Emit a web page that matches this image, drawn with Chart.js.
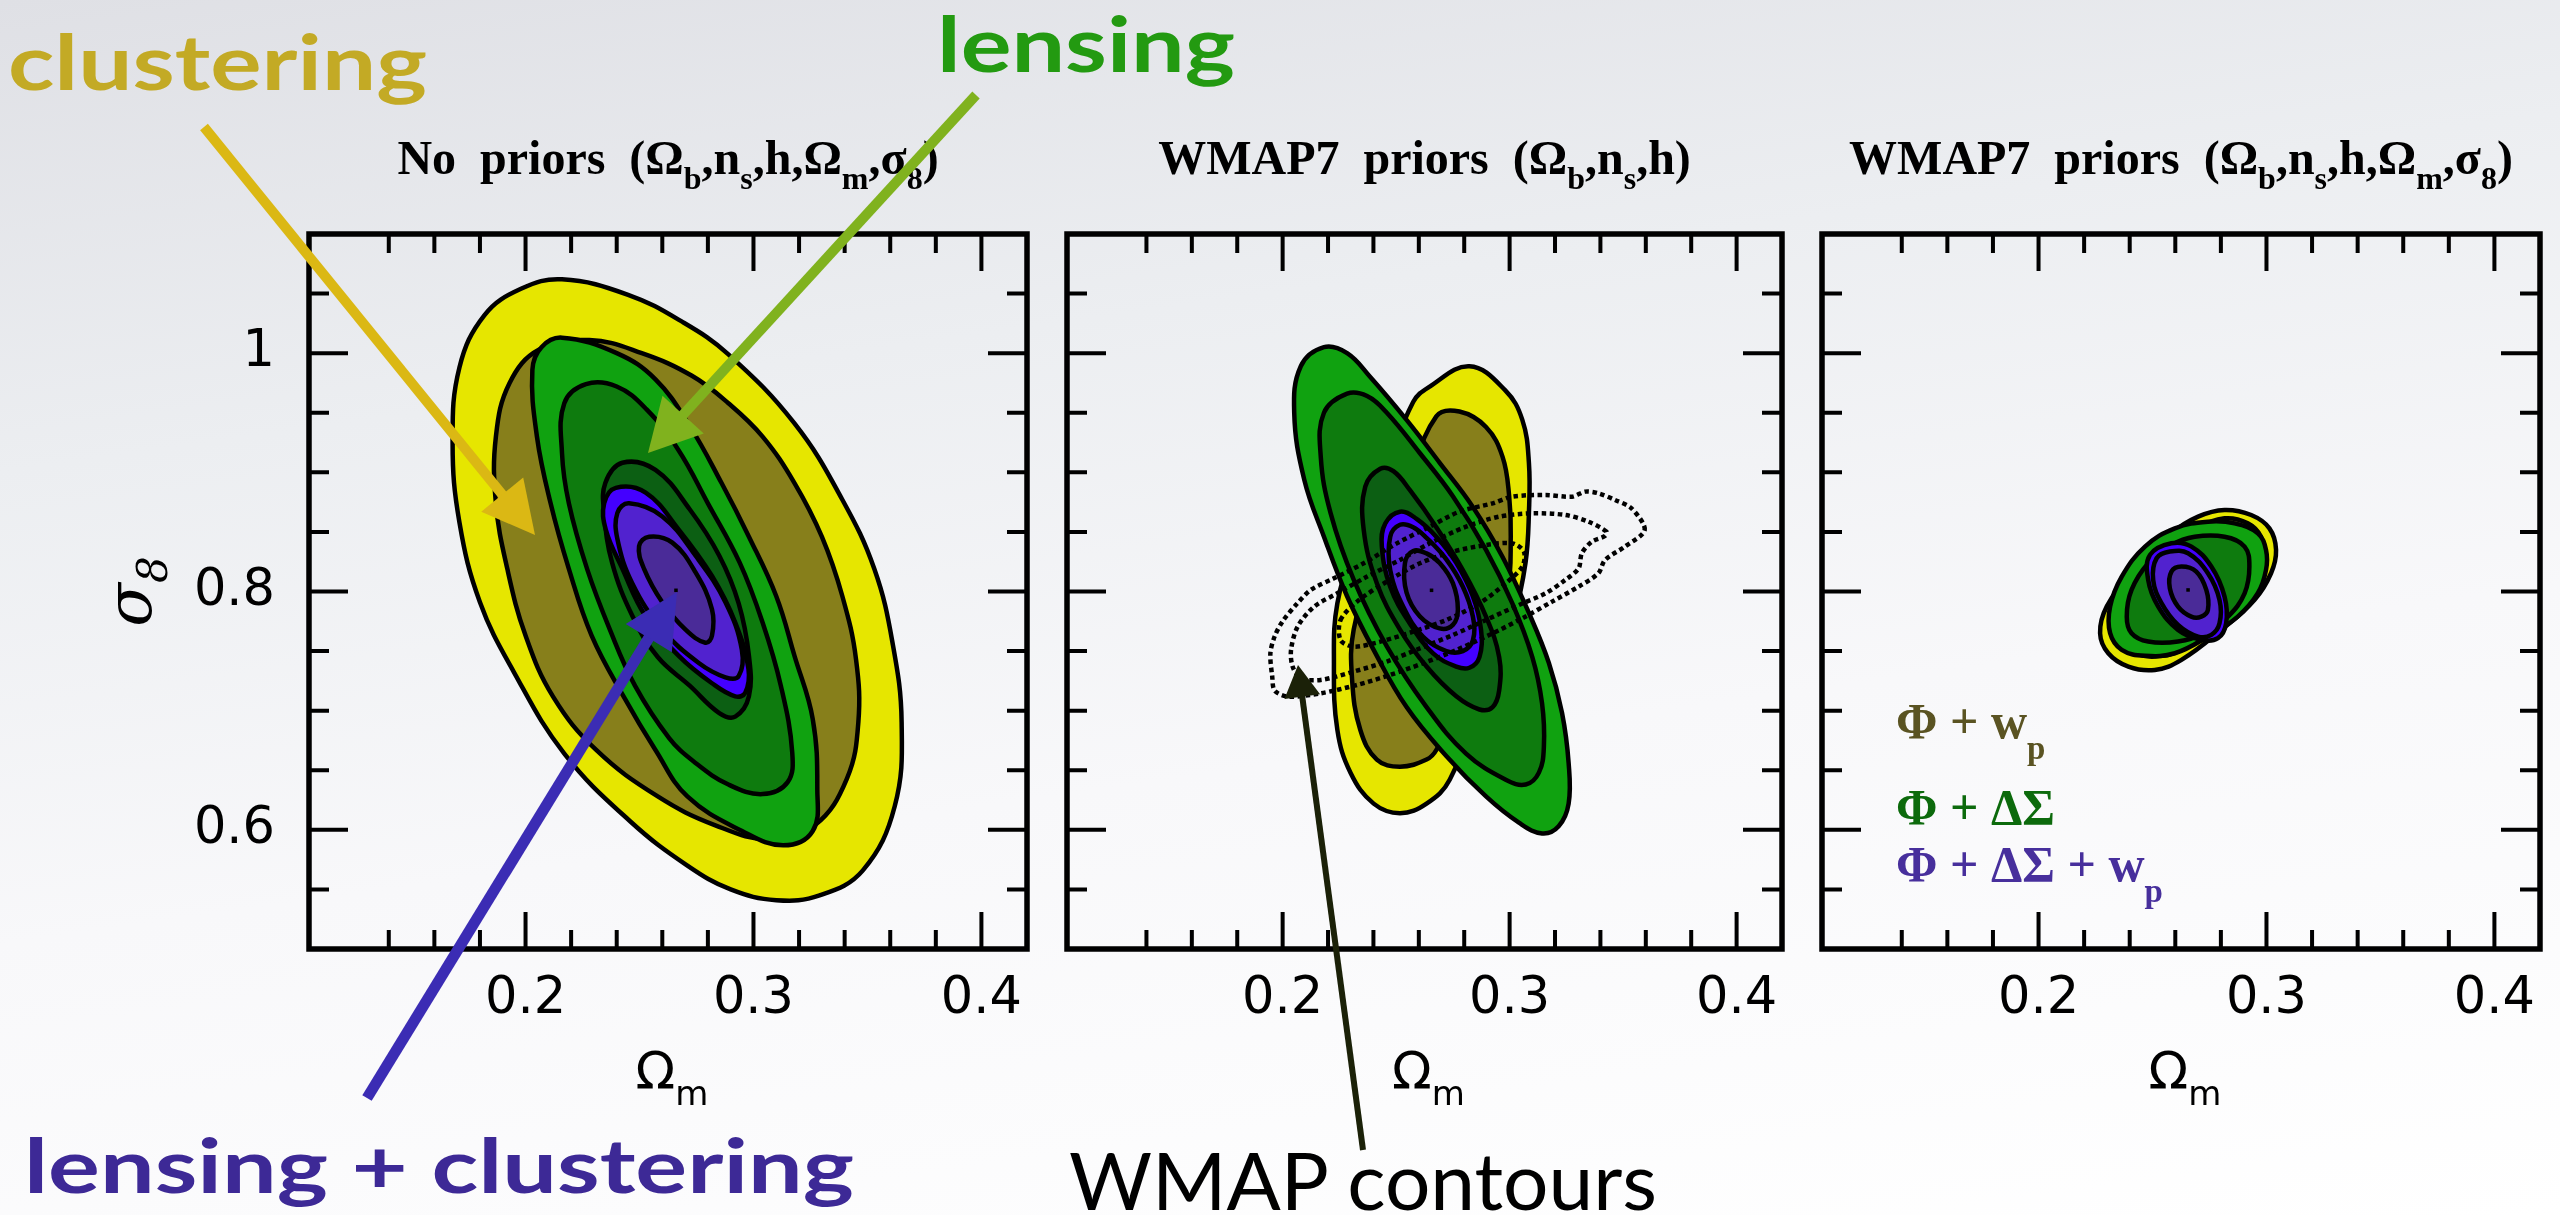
<!DOCTYPE html>
<html>
<head>
<meta charset="utf-8">
<script src="https://cdn.jsdelivr.net/npm/chart.js@4.4.1/dist/chart.umd.min.js"></script>
<style>
html, body { margin: 0; padding: 0; }
body {
    width: 2560px; height: 1215px; overflow: hidden; position: relative;
    background: linear-gradient(172deg, #dfe0e5 0%, #eceef1 30%, #f8f8fa 60%, #ffffff 100%);
}
canvas { position: absolute; top: 0; }
#notes { position: absolute; left: 0; top: 0; }
</style>
</head>
<body>
<canvas id="panel1" width="1047" height="1215" style="left:0px"></canvas>
<canvas id="panel2" width="755" height="1215" style="left:1047px"></canvas>
<canvas id="panel3" width="758" height="1215" style="left:1802px"></canvas>
<svg id="notes" width="2560" height="1215" xmlns="http://www.w3.org/2000/svg">
    <text x="8" y="90" font-family="Lato" font-weight="700" font-size="76" fill="#c3aa25" textLength="419" lengthAdjust="spacingAndGlyphs">clustering</text>
    <text x="937" y="72" font-family="Lato" font-weight="700" font-size="76" fill="#239a11" textLength="298" lengthAdjust="spacingAndGlyphs">lensing</text>
    <text x="24" y="1193" font-family="Lato" font-weight="700" font-size="74" fill="#3d2996" textLength="830" lengthAdjust="spacingAndGlyphs">lensing + clustering</text>
    <text x="1069" y="1210" font-family="Lato" font-weight="400" font-size="80" fill="#000000" textLength="588" lengthAdjust="spacingAndGlyphs">WMAP contours</text>
</svg>
<script>
// axes
var xRange = [0.105, 0.42];
var yRange = [0.5, 1.1];
var xMinorStep = 0.02;
var yMinorStep = 0.05;
var xMajorTicks = [0.2, 0.3, 0.4];
var yMajorTicks = [0.6, 0.8, 1.0];

var panelTitles = ["No  priors  (Ω_b,n_s,h,Ω_m,σ_8)", "WMAP7  priors  (Ω_b,n_s,h)", "WMAP7  priors  (Ω_b,n_s,h,Ω_m,σ_8)"];
var xTitle = "Ω_m";
var yTitle = "σ_8";
var legendLabels = ["Φ+w_p", "Φ+ΔΣ", "Φ+ΔΣ+w_p"];

// panel 1: no priors  [Omega_m, sigma_8] along each contour
var p1ClustOuter = [[0.216,1.062],[0.245,1.049],[0.269,1.026],[0.289,0.999],[0.318,0.941],[0.339,0.877],[0.353,0.819],[0.361,0.757],[0.365,0.690],[0.362,0.620],[0.348,0.566],[0.329,0.545],[0.310,0.541],[0.290,0.550],[0.271,0.570],[0.246,0.607],[0.217,0.664],[0.195,0.732],[0.180,0.791],[0.171,0.858],[0.168,0.925],[0.171,0.988],[0.182,1.032],[0.198,1.054]];
var p1ClustInner = [[0.206,1.003],[0.228,1.011],[0.251,1.000],[0.273,0.981],[0.289,0.958],[0.304,0.930],[0.318,0.891],[0.330,0.846],[0.339,0.796],[0.345,0.743],[0.346,0.690],[0.341,0.643],[0.327,0.604],[0.307,0.592],[0.283,0.604],[0.258,0.628],[0.231,0.667],[0.212,0.712],[0.200,0.763],[0.192,0.819],[0.187,0.874],[0.187,0.930],[0.193,0.975]];
var p1LensOuter = [[0.216,1.013],[0.240,1.000],[0.257,0.978],[0.272,0.939],[0.286,0.891],[0.298,0.846],[0.310,0.796],[0.318,0.746],[0.326,0.693],[0.328,0.634],[0.326,0.599],[0.313,0.587],[0.295,0.599],[0.271,0.628],[0.257,0.667],[0.243,0.712],[0.229,0.763],[0.219,0.819],[0.211,0.874],[0.205,0.930],[0.203,0.986],[0.207,1.005]];
var p1LensMid = [[0.2265,0.974],[0.240,0.972],[0.253,0.953],[0.267,0.919],[0.280,0.874],[0.294,0.824],[0.304,0.774],[0.312,0.721],[0.317,0.665],[0.315,0.640],[0.304,0.630],[0.289,0.638],[0.274,0.657],[0.263,0.677],[0.248,0.721],[0.237,0.768],[0.227,0.819],[0.219,0.874],[0.216,0.916],[0.217,0.958]];
var p1LensInner = [[0.2425,0.908],[0.257,0.902],[0.272,0.869],[0.285,0.830],[0.2935,0.790],[0.298,0.746],[0.298,0.712],[0.292,0.695],[0.285,0.698],[0.272,0.721],[0.258,0.745],[0.247,0.779],[0.238,0.824],[0.2345,0.866],[0.235,0.891]];
var p1CombOuter = [[0.2396,0.887],[0.2527,0.883],[0.2672,0.852],[0.2818,0.813],[0.292,0.774],[0.2978,0.735],[0.2964,0.715],[0.292,0.712],[0.2818,0.723],[0.2672,0.746],[0.2527,0.779],[0.2425,0.819],[0.2352,0.852],[0.2345,0.874]];
var p1CombMid = [[0.2454,0.874],[0.260,0.863],[0.2746,0.830],[0.2877,0.791],[0.2949,0.751],[0.2935,0.729],[0.2877,0.728],[0.276,0.740],[0.260,0.768],[0.2468,0.807],[0.2403,0.844],[0.2403,0.866]];
var p1CombInner = [[0.2542,0.846],[0.2644,0.841],[0.2746,0.816],[0.2818,0.785],[0.2818,0.763],[0.2789,0.757],[0.2702,0.768],[0.260,0.791],[0.252,0.819],[0.2498,0.838]];
var p1Best = [[0.266,0.801]];

// panel 2: WMAP7 priors on Omega_b, n_s, h
var p2ClustOuter = [[0.2823,0.989],[0.298,0.969],[0.3056,0.944],[0.3085,0.908],[0.3085,0.866],[0.307,0.824],[0.302,0.780],[0.290,0.720],[0.2736,0.642],[0.2634,0.622],[0.2517,0.614],[0.2401,0.622],[0.2299,0.648],[0.2241,0.684],[0.2226,0.740],[0.2241,0.790],[0.232,0.840],[0.245,0.900],[0.2575,0.959],[0.2648,0.972]];
var p2ClustInner = [[0.2779,0.951],[0.2896,0.938],[0.2969,0.913],[0.2998,0.880],[0.3005,0.846],[0.299,0.800],[0.290,0.750],[0.2677,0.667],[0.2634,0.659],[0.2517,0.653],[0.2415,0.659],[0.2342,0.684],[0.2306,0.726],[0.2313,0.768],[0.240,0.820],[0.255,0.890],[0.2677,0.947]];
var p2LensOuter = [[0.2182,1.005],[0.2284,1.000],[0.2386,0.980],[0.2546,0.944],[0.2692,0.908],[0.2838,0.871],[0.2969,0.829],[0.3085,0.782],[0.3173,0.740],[0.3231,0.698],[0.326,0.656],[0.326,0.622],[0.3216,0.603],[0.3143,0.597],[0.3041,0.606],[0.2896,0.628],[0.2721,0.662],[0.2546,0.703],[0.2401,0.751],[0.2284,0.796],[0.2182,0.846],[0.2095,0.894],[0.2051,0.950],[0.2080,0.989]];
var p2LensMid = [[0.2284,0.966],[0.2372,0.964],[0.2459,0.950],[0.2605,0.916],[0.2750,0.880],[0.2896,0.835],[0.3012,0.790],[0.310,0.745],[0.3143,0.706],[0.3151,0.670],[0.3129,0.648],[0.3071,0.638],[0.2983,0.642],[0.2808,0.664],[0.2634,0.703],[0.2459,0.754],[0.2313,0.810],[0.2211,0.866],[0.2168,0.913],[0.2182,0.950]];
var p2LensInner = [[0.2430,0.903],[0.2488,0.901],[0.2561,0.885],[0.2677,0.854],[0.2794,0.818],[0.2896,0.779],[0.2954,0.745],[0.2954,0.717],[0.2925,0.703],[0.2867,0.701],[0.2765,0.712],[0.2634,0.737],[0.2517,0.768],[0.2415,0.807],[0.2357,0.852],[0.2364,0.888]];
var p2CombOuter = [[0.2517,0.867],[0.259,0.861],[0.2677,0.846],[0.2765,0.824],[0.2838,0.796],[0.2874,0.768],[0.2867,0.745],[0.2823,0.736],[0.2765,0.737],[0.2663,0.748],[0.2561,0.773],[0.2474,0.804],[0.2437,0.838],[0.2452,0.857]];
var p2CombMid = [[0.2517,0.856],[0.2575,0.854],[0.2634,0.845],[0.2721,0.827],[0.2794,0.804],[0.2838,0.779],[0.2838,0.759],[0.2794,0.750],[0.2721,0.750],[0.2619,0.762],[0.2532,0.787],[0.2474,0.818],[0.2474,0.846]];
var p2CombInner = [[0.2575,0.834],[0.2634,0.832],[0.2692,0.824],[0.2750,0.807],[0.2772,0.785],[0.2750,0.772],[0.2692,0.769],[0.2605,0.779],[0.2546,0.799],[0.2539,0.824]];
var p2Best = [[0.2656,0.801]];
var wmapInner = [[0.2255,0.776],[0.2328,0.7915],[0.2459,0.8083],[0.2605,0.8237],[0.2750,0.8334],[0.2896,0.839],[0.3012,0.8404],[0.3063,0.8334],[0.3056,0.8209],[0.2983,0.8069],[0.2867,0.7901],[0.2721,0.7761],[0.2575,0.7663],[0.2430,0.7579],[0.2313,0.7537],[0.2255,0.7593]];
var wmapMid = [[0.3427,0.8502],[0.3347,0.8586],[0.3245,0.8642],[0.3100,0.8656],[0.2954,0.8628],[0.2808,0.8544],[0.2648,0.8404],[0.2517,0.8265],[0.2372,0.8125],[0.2241,0.7985],[0.2139,0.7873],[0.2066,0.7705],[0.2037,0.7509],[0.2044,0.7370],[0.2080,0.7272],[0.2168,0.7258],[0.2313,0.7328],[0.2459,0.7412],[0.2605,0.7523],[0.2750,0.7635],[0.2896,0.7761],[0.3041,0.7887],[0.3158,0.7985],[0.3245,0.8097],[0.3304,0.8195],[0.3318,0.8320],[0.3362,0.8418],[0.3420,0.8466]];
var wmapOuter = [[0.3595,0.8516],[0.3537,0.8698],[0.3464,0.8768],[0.3391,0.8824],[0.3333,0.8838],[0.3275,0.8796],[0.3158,0.8810],[0.3012,0.8796],[0.2925,0.8740],[0.2779,0.8670],[0.2648,0.8544],[0.2503,0.8404],[0.2357,0.8237],[0.2226,0.8111],[0.2124,0.8013],[0.2060,0.7890],[0.2000,0.7750],[0.1965,0.7624],[0.1946,0.7481],[0.1954,0.7288],[0.1965,0.7168],[0.2025,0.7118],[0.2168,0.7146],[0.2328,0.7216],[0.2474,0.7300],[0.2619,0.7398],[0.2765,0.7509],[0.2910,0.7635],[0.3056,0.7775],[0.3187,0.7915],[0.3304,0.8041],[0.3391,0.8153],[0.3420,0.8264],[0.3507,0.8376]];

// panel 3: WMAP7 priors on all five parameters
var p3ClustOuter = [[0.2816,0.8684],[0.2933,0.8642],[0.3013,0.853],[0.3042,0.8349],[0.3020,0.8153],[0.2947,0.7929],[0.2802,0.7678],[0.2627,0.7426],[0.2510,0.7342],[0.2394,0.737],[0.2306,0.7482],[0.2270,0.765],[0.2299,0.7873],[0.2408,0.8153],[0.2583,0.8488],[0.2700,0.8628]];
var p3ClustInner = [[0.2816,0.8614],[0.2918,0.8572],[0.2976,0.846],[0.2991,0.8293],[0.2947,0.8069],[0.2802,0.7761],[0.2627,0.751],[0.2510,0.7454],[0.2423,0.7482],[0.2365,0.7566],[0.2350,0.7706],[0.2408,0.7929],[0.2583,0.8321],[0.2700,0.853]];
var p3LensOuter = [[0.2743,0.8586],[0.2860,0.8572],[0.2962,0.8488],[0.2998,0.8349],[0.2998,0.8181],[0.2962,0.7985],[0.2874,0.7789],[0.2743,0.7622],[0.2598,0.7482],[0.2467,0.746],[0.2365,0.751],[0.2314,0.765],[0.2314,0.7873],[0.2365,0.8125],[0.2467,0.8377],[0.2598,0.853]];
var p3LensMid = [[0.2685,0.846],[0.2816,0.846],[0.2904,0.8377],[0.2925,0.8209],[0.2904,0.7985],[0.2831,0.7789],[0.2729,0.765],[0.2612,0.758],[0.2481,0.758],[0.2408,0.765],[0.2387,0.7789],[0.2408,0.8013],[0.2481,0.8237],[0.2583,0.8391]];
var p3CombOuter = [[0.2583,0.8405],[0.2671,0.8377],[0.2758,0.8209],[0.2816,0.7957],[0.2823,0.7733],[0.2787,0.7608],[0.2714,0.7594],[0.2612,0.7678],[0.2525,0.7873],[0.2481,0.8097],[0.2489,0.8307]];
var p3CombMid = [[0.2576,0.8335],[0.2656,0.8321],[0.2743,0.8153],[0.2794,0.7929],[0.2794,0.7733],[0.2758,0.7636],[0.2700,0.7622],[0.2612,0.772],[0.2540,0.7901],[0.2503,0.8097],[0.2518,0.8279]];
var p3CombInner = [[0.2627,0.8209],[0.2692,0.8167],[0.2736,0.8013],[0.2743,0.7845],[0.2714,0.7789],[0.2670,0.7789],[0.2612,0.7873],[0.2576,0.8027],[0.2583,0.8167]];
var p3Best = [[0.2656,0.8013]];

// styles
var fillColors = {
    clustOuter: "#e6e600", clustInner: "#877f1b",
    lensOuter: "#10a210", lensMid: "#0e7b0e", lensInner: "#0c5f13",
    combOuter: "#4400ff", combMid: "#5122cf", combInner: "#4a2b98"
};
var legendColors = ["#5a5322", "#0c6a0c", "#472f9c"];

var panels = [
    { canvas: "panel1", yWidth: 309, rightPad: 17, yLabels: true, legend: false,
      contours: [[p1ClustOuter, "clustOuter"], [p1ClustInner, "clustInner"], [p1LensOuter, "lensOuter"], [p1LensMid, "lensMid"],
                 [p1LensInner, "lensInner"], [p1CombOuter, "combOuter"], [p1CombMid, "combMid"], [p1CombInner, "combInner"]],
      wmap: [], best: p1Best },
    { canvas: "panel2", yWidth: 17, rightPad: 17, yLabels: false, legend: false,
      contours: [[p2ClustOuter, "clustOuter"], [p2ClustInner, "clustInner"], [p2LensOuter, "lensOuter"], [p2LensMid, "lensMid"],
                 [p2LensInner, "lensInner"], [p2CombOuter, "combOuter"], [p2CombMid, "combMid"], [p2CombInner, "combInner"]],
      wmap: [wmapOuter, wmapMid, wmapInner], best: p2Best },
    { canvas: "panel3", yWidth: 17, rightPad: 20, yLabels: false, legend: true,
      contours: [[p3ClustOuter, "clustOuter"], [p3ClustInner, "clustInner"], [p3LensOuter, "lensOuter"], [p3LensMid, "lensMid"],
                 [p3CombOuter, "combOuter"], [p3CombMid, "combMid"], [p3CombInner, "combInner"]],
      wmap: [], best: p3Best }
];

// a line dataset whose last point joins back smoothly to the first one
class ContourController extends Chart.LineController {
    update(mode) {
        super.update(mode);
        var line = this._cachedMeta.dataset;
        line._loop = true;
        line._fullLoop = true;
    }
}
ContourController.id = "contour";
ContourController.defaults = Chart.LineController.defaults;
Chart.register(ContourController);

function isOn(v, list) {
    return list.some(function(m) { return Math.abs(m - v) < 1e-6; });
}

// text with single-character subscripts written as _x
function drawRich(ctx, str, x, y, font, align) {
    var parts = [];
    for (var i = 0; i < str.length; i++) {
        if (str[i] === "_" && i + 1 < str.length) {
            parts.push({ t: str[i + 1], sub: true });
            i++;
        } else if (parts.length && !parts[parts.length - 1].sub) {
            parts[parts.length - 1].t += str[i];
        } else {
            parts.push({ t: str[i], sub: false });
        }
    }
    var fontOf = function(p) {
        var size = p.sub ? Math.round(font.size * 0.66) : font.size;
        return (font.style || "normal") + " " + (font.weight || "normal") + " " + size + "px " + font.family;
    };
    var w = 0;
    parts.forEach(function(p) {
        ctx.font = fontOf(p);
        p.w = ctx.measureText(p.t).width;
        w += p.w;
    });
    var cx = align === "center" ? x - w / 2 : x;
    ctx.fillStyle = font.color;
    ctx.textAlign = "left";
    ctx.textBaseline = "alphabetic";
    parts.forEach(function(p) {
        ctx.font = fontOf(p);
        ctx.fillText(p.t, cx, y + (p.sub ? font.size * (font.drop || 0.3) : 0));
        cx += p.w;
    });
}

var panelDecor = {
    id: "panelDecor",
    afterDatasetsDraw: function(chart) {
        var ctx = chart.ctx;
        var a = chart.chartArea;
        var xs = chart.scales.x, ys = chart.scales.y;
        ctx.save();
        ctx.strokeStyle = "#000";
        ctx.lineWidth = 4;
        ctx.beginPath();
        xs.ticks.forEach(function(t) {
            if (t.value <= xs.min + 1e-6 || t.value >= xs.max - 1e-6) return;
            var px = xs.getPixelForValue(t.value);
            var len = isOn(t.value, xMajorTicks) ? 37 : 19;
            ctx.moveTo(px, a.bottom); ctx.lineTo(px, a.bottom - len);
            ctx.moveTo(px, a.top); ctx.lineTo(px, a.top + len);
        });
        ys.ticks.forEach(function(t) {
            if (t.value <= ys.min + 1e-6 || t.value >= ys.max - 1e-6) return;
            var py = ys.getPixelForValue(t.value);
            var len = isOn(t.value, yMajorTicks) ? 39 : 20;
            ctx.moveTo(a.left, py); ctx.lineTo(a.left + len, py);
            ctx.moveTo(a.right, py); ctx.lineTo(a.right - len, py);
        });
        ctx.stroke();
        ctx.lineWidth = 5.5;
        ctx.strokeRect(a.left, a.top, a.right - a.left, a.bottom - a.top);
        ctx.restore();
    },
    afterDraw: function(chart, args, opts) {
        var ctx = chart.ctx;
        var a = chart.chartArea;
        var mid = (a.left + a.right) / 2;
        ctx.save();
        drawRich(ctx, opts.title, mid, a.top - 60,
            { family: "'Liberation Serif'", weight: "bold", size: 48, color: "#000", drop: 0.32 }, "center");
        drawRich(ctx, xTitle, mid + 4, a.bottom + 140,
            { family: "'DejaVu Sans'", size: 52, color: "#000", drop: 0.3 }, "center");
        if (opts.yTitle) {
            ctx.translate(a.left - 158, (a.top + a.bottom) / 2);
            ctx.rotate(-Math.PI / 2);
            drawRich(ctx, yTitle, 0, 0,
                { family: "'DejaVu Serif'", style: "italic", size: 64, color: "#000", drop: 0.25 }, "center");
            ctx.setTransform(1, 0, 0, 1, 0, 0);
        }
        if (opts.legend) {
            var rows = [504, 590, 647];
            legendLabels.forEach(function(s, i) {
                drawRich(ctx, s.replace(/\+/g, " + ").replace(/^ | $/g, ""), a.left + 74, a.top + rows[i],
                    { family: "'Liberation Serif'", weight: "bold", size: 50, color: legendColors[i], drop: 0.42 }, "left");
            });
        }
        ctx.restore();
    }
};

panels.forEach(function(p, k) {
    var sets = [];
    p.contours.forEach(function(c) {
        sets.push({
            type: "contour", data: c[0], fill: "shape",
            backgroundColor: fillColors[c[1]], borderColor: "#000", borderWidth: 4.5,
            tension: 0.4, pointRadius: 0
        });
    });
    p.wmap.forEach(function(w) {
        sets.push({
            type: "contour", data: w, fill: false,
            borderColor: "#000", borderWidth: 4.5, borderDash: [4.5, 3.5],
            tension: 0.3, pointRadius: 0
        });
    });
    sets.push({
        type: "scatter", data: p.best, pointStyle: "rect", pointRadius: 2.5,
        backgroundColor: "#000", borderWidth: 0
    });
    // first entry at the bottom of the stack
    sets.forEach(function(s, i) { s.order = sets.length - i; });

    new Chart(document.getElementById(p.canvas), {
        type: "scatter",
        data: { datasets: sets },
        plugins: [panelDecor],
        options: {
            responsive: false,
            animation: false,
            events: [],
            layout: { padding: { top: 234, right: p.rightPad, left: 0, bottom: 0 } },
            plugins: {
                legend: { display: false },
                tooltip: { enabled: false },
                panelDecor: { title: panelTitles[k], yTitle: p.yLabels, legend: p.legend }
            },
            scales: {
                x: {
                    type: "linear", position: "bottom", min: xRange[0], max: xRange[1],
                    afterFit: function(s) { s.height = 266; },
                    grid: { display: false, drawTicks: false },
                    border: { display: false },
                    ticks: {
                        stepSize: xMinorStep, autoSkip: false, maxRotation: 0, padding: 20,
                        color: "#000", font: { family: "'DejaVu Sans'", size: 51 },
                        callback: function(v) { return isOn(v, xMajorTicks) ? v.toFixed(1) : ""; }
                    }
                },
                y: {
                    type: "linear", position: "left", min: yRange[0], max: yRange[1],
                    afterFit: function(s) { s.width = p.yWidth; },
                    grid: { display: false, drawTicks: false },
                    border: { display: false },
                    ticks: {
                        display: p.yLabels, stepSize: yMinorStep, autoSkip: false, padding: 34,
                        color: "#000", font: { family: "'DejaVu Sans'", size: 51 },
                        callback: function(v) {
                            if (!isOn(v, yMajorTicks)) return "";
                            return Math.abs(v - 1) < 1e-6 ? "1" : v.toFixed(1);
                        }
                    }
                }
            }
        }
    });
});

// annotation arrows
var arrows = [
    { from: [204, 127], to: [535, 535], width: 10, head: 52, headW: 54, color: "#dbb814" },
    { from: [976, 95], to: [648, 453], width: 10, head: 52, headW: 56, color: "#80b21e" },
    { from: [367, 1098], to: [677, 592], width: 11, head: 54, headW: 54, color: "#3b2cb4" },
    { from: [1363, 1150], to: [1298, 665], width: 6, head: 32, headW: 36, color: "#1b2108" }
];
var svg = document.getElementById("notes");
var NS = "http://www.w3.org/2000/svg";
arrows.forEach(function(ar) {
    var dx = ar.to[0] - ar.from[0], dy = ar.to[1] - ar.from[1];
    var L = Math.hypot(dx, dy), ux = dx / L, uy = dy / L;
    var bx = ar.to[0] - ux * ar.head, by = ar.to[1] - uy * ar.head;
    var shaft = document.createElementNS(NS, "line");
    shaft.setAttribute("x1", ar.from[0]); shaft.setAttribute("y1", ar.from[1]);
    shaft.setAttribute("x2", bx + ux * 3); shaft.setAttribute("y2", by + uy * 3);
    shaft.setAttribute("stroke", ar.color); shaft.setAttribute("stroke-width", ar.width);
    svg.appendChild(shaft);
    var h = ar.headW / 2;
    var head = document.createElementNS(NS, "polygon");
    head.setAttribute("points", [ar.to[0] + "," + ar.to[1],
        (bx - uy * h) + "," + (by + ux * h), (bx + uy * h) + "," + (by - ux * h)].join(" "));
    head.setAttribute("fill", ar.color);
    svg.appendChild(head);
});
</script>
</body>
</html>
